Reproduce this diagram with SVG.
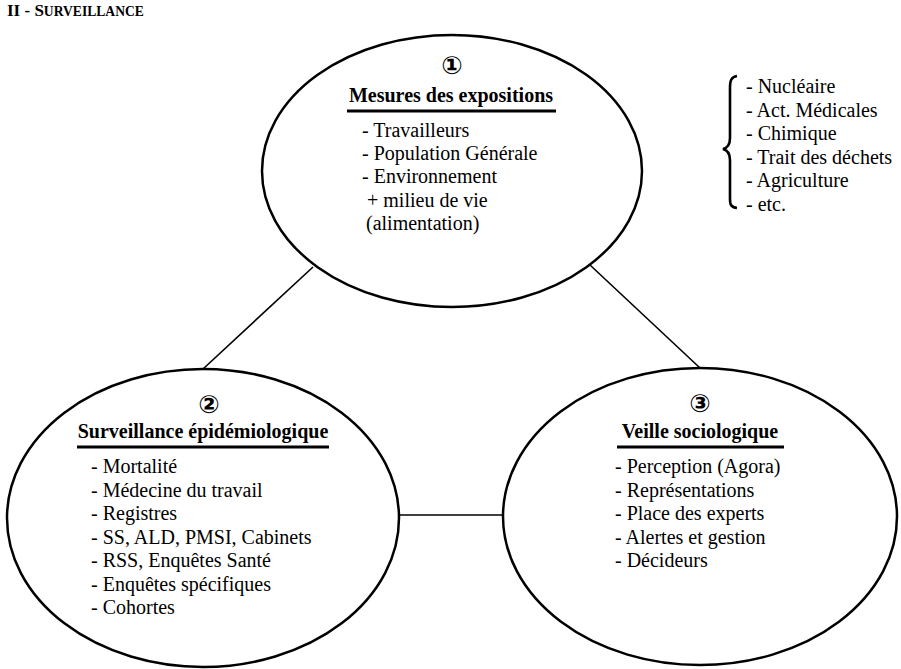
<svg xmlns="http://www.w3.org/2000/svg" width="901" height="669" viewBox="0 0 901 669">
<style>
  .item { font-family: "Liberation Serif", "Times New Roman", serif; font-size: 20px; fill: #000; }
  .title { font-family: "Liberation Serif", "Times New Roman", serif; font-size: 20px; font-weight: bold; text-anchor: middle; fill: #000; }
  .head { font-family: "Liberation Serif", "Times New Roman", serif; font-size: 17px; font-weight: bold; fill: #000; }
  .num { font-family: "DejaVu Sans", sans-serif; font-size: 25px; font-weight: bold; text-anchor: middle; fill: #000; }
  .ell { fill: #fff; stroke: #000; stroke-width: 2.5; }
  .ul { stroke: #000; stroke-width: 3; }
  .conn { stroke: #000; stroke-width: 1.6; fill: none; }
</style>
<rect width="901" height="669" fill="#fff"/>
<text class="head" x="7" y="16">II - S<tspan style="font-size:13.6px">URVEILLANCE</tspan></text>

<g id="connectors">
  <line class="conn" x1="313" y1="267" x2="203" y2="369"/>
  <line class="conn" x1="590" y1="265" x2="700" y2="368"/>
  <line class="conn" x1="399" y1="515" x2="503" y2="515"/>
</g>

<g id="node1">
  <ellipse class="ell" cx="452" cy="171" rx="190" ry="136"/>
  <text class="num" x="452" y="74">①</text>
  <text class="title" x="451" y="102">Mesures des expositions</text>
  <line class="ul" x1="347" y1="111" x2="556" y2="111"/>
  <text class="item" x="362" y="137">- Travailleurs</text>
  <text class="item" x="362" y="160">- Population Générale</text>
  <text class="item" x="362" y="183">- Environnement</text>
  <text class="item" x="367" y="207">+ milieu de vie</text>
  <text class="item" x="366" y="230">(alimentation)</text>
</g>

<g id="sectors">
  <path d="M737,76 C731,77 730,81 730,88 L730,138 C730,145 727,148 723,149 C727,150 730,153 730,160 L730,199 C730,205 731,207 737,208" fill="none" stroke="#000" stroke-width="2.6"/>
  <text class="item" x="746" y="93">- Nucléaire</text>
  <text class="item" x="746" y="117">- Act. Médicales</text>
  <text class="item" x="746" y="140">- Chimique</text>
  <text class="item" x="746" y="164">- Trait des déchets</text>
  <text class="item" x="746" y="187">- Agriculture</text>
  <text class="item" x="746" y="211">- etc.</text>
</g>

<g id="node2">
  <ellipse class="ell" cx="203" cy="518" rx="196" ry="149"/>
  <text class="num" x="209" y="413">②</text>
  <text class="title" x="203" y="438">Surveillance épidémiologique</text>
  <line class="ul" x1="77" y1="447" x2="329" y2="447"/>
  <text class="item" x="91" y="473">- Mortalité</text>
  <text class="item" x="91" y="497">- Médecine du travail</text>
  <text class="item" x="91" y="520">- Registres</text>
  <text class="item" x="91" y="544">- SS, ALD, PMSI, Cabinets</text>
  <text class="item" x="91" y="567">- RSS, Enquêtes Santé</text>
  <text class="item" x="91" y="591">- Enquêtes spécifiques</text>
  <text class="item" x="91" y="614">- Cohortes</text>
</g>

<g id="node3">
  <ellipse class="ell" cx="700" cy="516.5" rx="197" ry="148.5"/>
  <text class="num" x="700" y="412">③</text>
  <text class="title" x="700" y="438">Veille sociologique</text>
  <line class="ul" x1="617" y1="447" x2="784" y2="447"/>
  <text class="item" x="615" y="473">- Perception (Agora)</text>
  <text class="item" x="615" y="497">- Représentations</text>
  <text class="item" x="615" y="520">- Place des experts</text>
  <text class="item" x="615" y="544">- Alertes et gestion</text>
  <text class="item" x="615" y="567">- Décideurs</text>
</g>
</svg>
